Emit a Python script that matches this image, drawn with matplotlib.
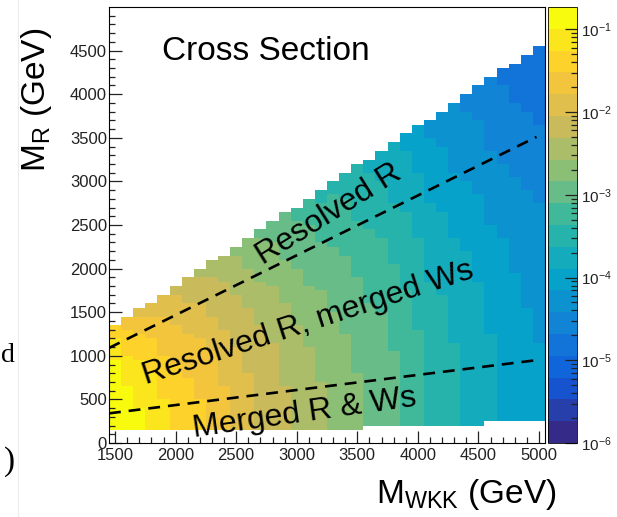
import numpy as np
import matplotlib
matplotlib.use("Agg")
import matplotlib.pyplot as plt
from matplotlib.colors import LinearSegmentedColormap, ListedColormap, BoundaryNorm
from matplotlib.ticker import FixedLocator, MultipleLocator
from matplotlib.lines import Line2D

plt.rcParams["font.family"] = ["Liberation Sans", "DejaVu Sans"]
plt.rcParams["mathtext.fontset"] = "custom"
plt.rcParams["mathtext.rm"] = "Liberation Sans"

# --- data ---
MWKK_CENTERS = [1500, 1600, 1700, 1800, 1900, 2000, 2100, 2200, 2300, 2400,
                2500, 2600, 2700, 2800, 2900, 3000, 3100, 3200, 3300, 3400,
                3500, 3600, 3700, 3800, 3900, 4000, 4100, 4200, 4300, 4400,
                4500, 4600, 4700, 4800, 4900, 5000]
MR_TOP = [1350, 1450, 1550, 1600, 1700, 1800, 1900, 2000, 2100, 2150,
          2250, 2350, 2450, 2550, 2650, 2700, 2800, 2900, 3000, 3100,
          3200, 3250, 3350, 3450, 3550, 3650, 3700, 3800, 3900, 4000,
          4100, 4200, 4300, 4350, 4450, 4550]
MR_BOTTOM = [150, 150, 150, 150, 150, 150, 150, 150, 150, 150,
             150, 150, 150, 150, 150, 150, 150, 150, 150, 150,
             150, 200, 200, 200, 200, 200, 200, 200, 200, 200,
             200, 250, 250, 250, 250, 250]
# log10(cross section) in the lower part of each MWKK column
XS_LOG10 = [-0.55, -0.85, -0.97, -1.07, -1.20, -1.30, -1.40, -1.50, -1.60, -1.72,
            -1.83, -1.95, -2.07, -2.17, -2.28, -2.36, -2.45, -2.55, -2.62, -2.70,
            -2.80, -2.88, -2.96, -3.05, -3.15, -3.28, -3.40, -3.48, -3.58, -3.66,
            -3.75, -3.85, -3.92, -4.00, -4.07, -4.12]
# change of log10(xs) vs MR / MR_top, in steps of 0.05
REL_HEIGHT_DROP = [0.0, 0.0, 0.0, 0.0, -0.02, -0.04, -0.07, -0.10, -0.14, -0.18,
                   -0.23, -0.28, -0.33, -0.39, -0.45, -0.51, -0.58, -0.65, -0.73, -0.82]
MR_BIN = 50

BOUNDARY_X = [1450, 4980]
UPPER_Y = [1090, 3510]
LOWER_Y = [340, 950]

Z_LOG_MIN, Z_LOG_MAX = -6.0, -0.73
N_CONTOURS = 20

# ROOT kBird palette
BIRD = [(0.2082, 0.1664, 0.5293), (0.0592, 0.3599, 0.8684), (0.0780, 0.5041, 0.8385),
        (0.0232, 0.6419, 0.7914), (0.1802, 0.7178, 0.6425), (0.5301, 0.7492, 0.4662),
        (0.8186, 0.7328, 0.3499), (0.9956, 0.7862, 0.1968), (0.9764, 0.9832, 0.0539)]

# --- build histogram ---
x_edges = np.append(np.array(MWKK_CENTERS) - 50, MWKK_CENTERS[-1] + 50)
y_edges = np.arange(0, 5000 + MR_BIN, MR_BIN)
z = np.full((len(y_edges) - 1, len(MWKK_CENTERS)), np.nan)
for i, (top, bot, base) in enumerate(zip(MR_TOP, MR_BOTTOM, XS_LOG10)):
    for j in range(len(y_edges) - 1):
        lo, hi = y_edges[j], y_edges[j + 1]
        if lo >= bot and hi <= top:
            u = 0.5 * (lo + hi) / top
            k = min(int(u / 0.05), len(REL_HEIGHT_DROP) - 1)
            z[j, i] = base + REL_HEIGHT_DROP[k]
z = np.ma.masked_invalid(z)

bird = LinearSegmentedColormap.from_list("bird", BIRD)
cmap = ListedColormap(bird(np.linspace(0, 1, N_CONTOURS)))
levels = np.linspace(Z_LOG_MIN, Z_LOG_MAX, N_CONTOURS + 1)
norm = BoundaryNorm(levels, N_CONTOURS, clip=True)

W, H = 617, 517
fig = plt.figure(figsize=(W / 100, H / 100), dpi=100)
ax = fig.add_axes([109 / W, 1 - 443 / H, 436 / W, 436 / H])
mesh = ax.pcolormesh(x_edges, y_edges, z, cmap=cmap, norm=norm)

dash = (0, (4.5, 3.0))
ax.plot(BOUNDARY_X, UPPER_Y, color="black", lw=1.9, linestyle=dash)
ax.plot(BOUNDARY_X, LOWER_Y, color="black", lw=1.9, linestyle=dash)

ax.set_xlim(1450, 5050)
ax.set_ylim(0, 5000)
ax.xaxis.set_major_locator(MultipleLocator(500))
ax.xaxis.set_minor_locator(MultipleLocator(100))
ax.yaxis.set_major_locator(FixedLocator(np.arange(0, 4501, 500)))
ax.yaxis.set_minor_locator(FixedLocator(np.arange(0, 5000, 100)))
ax.tick_params(which="both", direction="in", top=False, right=False,
               width=0.9, colors="#222222", labelsize=12)
ax.tick_params(which="major", length=9)
ax.tick_params(which="minor", length=4.5)
ax.tick_params(axis="x", pad=3.5)
ax.tick_params(axis="y", pad=1.5)
for sp in ax.spines.values():
    sp.set_linewidth(0.8)

ax.text(3266, 2620, "Resolved R", fontsize=23, rotation=32,
        rotation_mode="anchor", ha="center", va="center")
ax.text(3092, 1373, "Resolved R, merged Ws", fontsize=23, rotation=18,
        rotation_mode="anchor", ha="center", va="center")
ax.text(3068, 343, "Merged R & Ws", fontsize=23, rotation=8,
        rotation_mode="anchor", ha="center", va="center")

fig.text(162 / W, 1 - 60 / H, "Cross Section", fontsize=24, ha="left", va="baseline")
fig.text(36 / W, 1 - 28 / H, r"M$_{\mathregular{R}}$ (GeV)", fontsize=24,
         rotation=90, ha="center", va="top")
fig.text(557 / W, 1 - 503 / H, r"M$_{\mathregular{WKK}}$ (GeV)", fontsize=24,
         ha="right", va="baseline")

# colour palette
cax = fig.add_axes([548 / W, 1 - 443 / H, 29 / W, 436 / H])
cbar = fig.colorbar(mesh, cax=cax)
major = [-6, -5, -4, -3, -2, -1]
cbar.set_ticks(major)
cbar.set_ticklabels([r"$\mathregular{10^{%d}}$" % m for m in major])
minor = [np.log10(k * 10.0 ** n) for n in range(-6, 0) for k in range(2, 10)]
cax.yaxis.set_ticks([m for m in minor if m < Z_LOG_MAX], minor=True)
cax.tick_params(which="both", direction="in", right=True, left=False,
                width=0.9, colors="#222222", labelsize=11, pad=3)
cax.tick_params(which="major", length=9)
cax.tick_params(which="minor", length=4.5)
cbar.outline.set_linewidth(0.6)

# bits of the page around the figure
fig.text(1 / W, 1 - 362 / H, "d", family="Liberation Serif", fontsize=20,
         ha="left", va="baseline")
fig.text(15 / W, 1 - 462 / H, ")", family="Liberation Serif", fontsize=24,
         ha="right", va="center")
fig.add_artist(Line2D([18 / W, 18 / W], [0, 1], color="#ececec", lw=0.8))

fig.savefig("out.png", dpi=100)
